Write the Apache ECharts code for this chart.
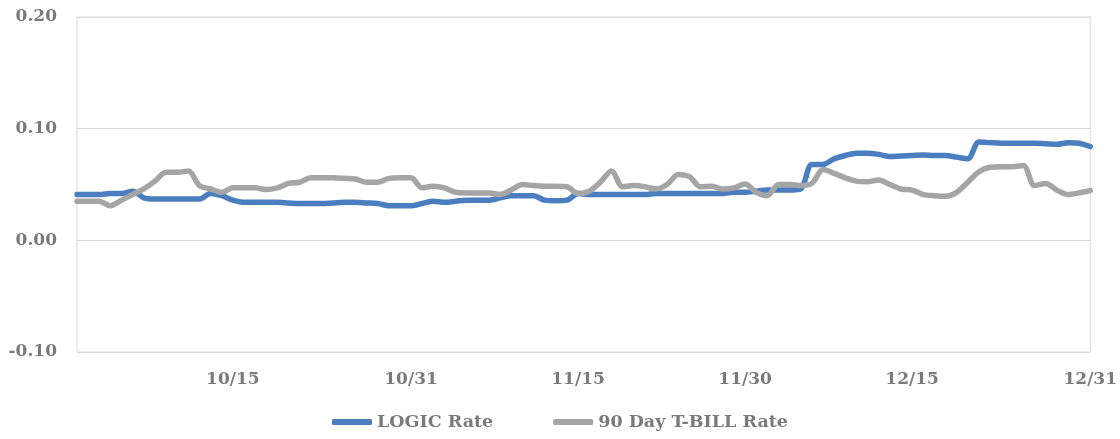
<!DOCTYPE html>
<html>
<head>
<meta charset="utf-8">
<script src="https://cdn.jsdelivr.net/npm/echarts@6/dist/echarts.min.js"></script>
<style>
  html, body { margin: 0; padding: 0; background: #fff; }
  #chart { width: 1120px; height: 439px; }
</style>
</head>
<body>
<div id="chart"></div>
<script>
// daily dates 10/1 .. 12/31
const months = [[10, 31], [11, 30], [12, 31]];
const dates = [];
months.forEach(function (m) {
  for (let d = 1; d <= m[1]; d++) dates.push(m[0] + '/' + d);
});

// labels shown under the x axis
const tickLabels = ['10/15', '10/31', '11/15', '11/30', '12/15', '12/31'];

const logicRate = [
  0.041, 0.041, 0.041, 0.042, 0.042, 0.044, 0.038, 0.037, 0.037, 0.037,
  0.037, 0.037, 0.042, 0.040, 0.036, 0.034, 0.034, 0.034, 0.034, 0.0335,
  0.033, 0.033, 0.033, 0.0335, 0.034, 0.034, 0.0335, 0.033, 0.031, 0.031,
  0.031, 0.033, 0.035, 0.034, 0.035, 0.036, 0.036, 0.036, 0.038, 0.040,
  0.040, 0.040, 0.036, 0.0355, 0.036, 0.042, 0.041, 0.041, 0.041, 0.041,
  0.041, 0.041, 0.042, 0.042, 0.042, 0.042, 0.042, 0.042, 0.042, 0.043,
  0.043, 0.044, 0.045, 0.045, 0.045, 0.046, 0.068, 0.068, 0.073, 0.076,
  0.078, 0.078, 0.077, 0.075, 0.0755, 0.076, 0.0765, 0.076, 0.076, 0.0745,
  0.073, 0.088, 0.0875, 0.087, 0.087, 0.087, 0.087, 0.0865, 0.086, 0.0875,
  0.087, 0.084
];

const tbillRate = [
  0.035, 0.035, 0.035, 0.031, 0.036, 0.041, 0.046, 0.053, 0.061, 0.061,
  0.062, 0.049, 0.046, 0.043, 0.047, 0.047, 0.047, 0.0455, 0.047, 0.051,
  0.052, 0.056, 0.056, 0.056, 0.0555, 0.055, 0.052, 0.052, 0.0555, 0.056,
  0.056, 0.047, 0.0485, 0.047, 0.043, 0.0425, 0.0425, 0.0425, 0.041, 0.045,
  0.050, 0.049, 0.0485, 0.0485, 0.048, 0.042, 0.044, 0.052, 0.062, 0.048,
  0.049, 0.048, 0.046, 0.050, 0.059, 0.057, 0.048, 0.0485, 0.046, 0.047,
  0.0505, 0.043, 0.040, 0.050, 0.050, 0.049, 0.051, 0.0634, 0.060, 0.056,
  0.053, 0.0525, 0.054, 0.050, 0.046, 0.045, 0.041, 0.040, 0.0395, 0.043,
  0.052, 0.0615, 0.0655, 0.066, 0.066, 0.067, 0.049, 0.051, 0.045, 0.041,
  0.0425, 0.0445
];

const font = '"DejaVu Serif", serif';
const textColor = '#7a7a7a';
const gridColor = '#d9d9d9';

const chart = echarts.init(document.getElementById('chart'));
chart.setOption({
  animation: false,
  grid: {
    left: 77, right: 20, top: 17, bottom: 87,
    show: true, borderColor: gridColor, borderWidth: 1
  },
  legend: {
    bottom: 3,
    left: 'center',
    icon: 'roundRect',
    itemWidth: 40,
    itemHeight: 6,
    itemGap: 60,
    textStyle: { fontFamily: font, fontWeight: 'bold', fontSize: 17.5, color: textColor }
  },
  xAxis: {
    type: 'category',
    data: dates,
    boundaryGap: false,
    axisLine: { show: false },
    axisTick: { show: false },
    axisLabel: {
      interval: function (idx, val) { return tickLabels.indexOf(val) >= 0; },
      margin: 19,
      fontFamily: font, fontWeight: 'bold', fontSize: 17, color: textColor
    }
  },
  yAxis: {
    type: 'value',
    min: -0.1,
    max: 0.2,
    interval: 0.1,
    axisLine: { show: false },
    axisTick: { show: false },
    splitLine: { lineStyle: { color: gridColor, width: 1 } },
    axisLabel: {
      margin: 20,
      formatter: function (v) { return v.toFixed(2); },
      fontFamily: font, fontWeight: 'bold', fontSize: 17, color: textColor
    }
  },
  series: [
    {
      name: 'LOGIC Rate',
      type: 'line',
      data: logicRate,
      smooth: 0.3,
      showSymbol: false,
      color: '#4a7ebf',
      lineStyle: { width: 5.5, color: '#4a7ebf', cap: 'round', join: 'round' }
    },
    {
      name: '90 Day T-BILL Rate',
      type: 'line',
      data: tbillRate,
      smooth: 0.3,
      showSymbol: false,
      color: '#a5a5a5',
      lineStyle: { width: 5.5, color: '#a5a5a5', cap: 'round', join: 'round' }
    }
  ]
});
</script>
</body>
</html>
